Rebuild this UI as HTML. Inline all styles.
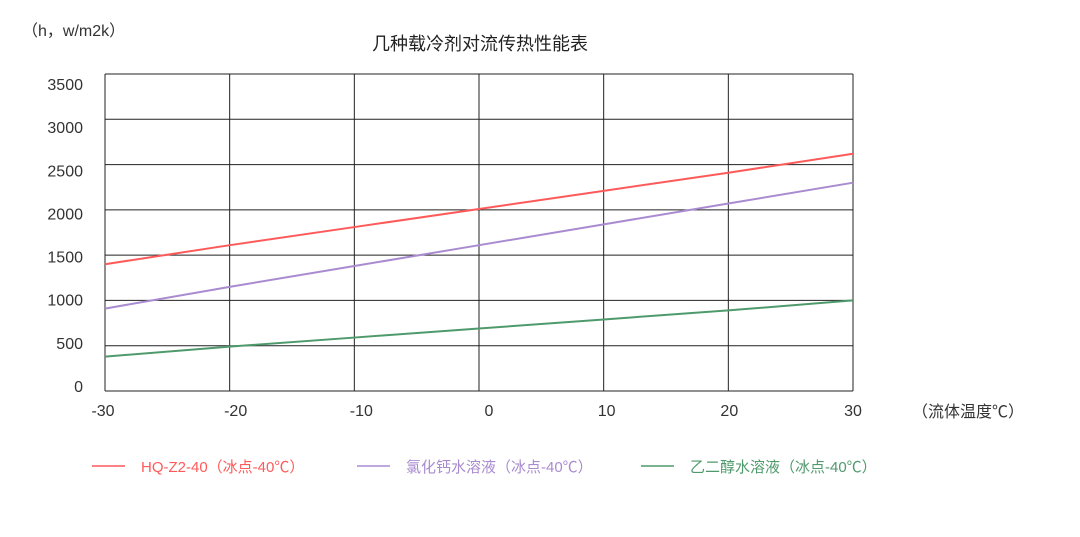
<!DOCTYPE html>
<html><head><meta charset="utf-8"><style>
body{margin:0;background:#fff;width:1080px;height:532px;overflow:hidden;font-family:"Liberation Sans","Noto Sans CJK SC",sans-serif}
</style></head><body>
<svg id="c" width="1080" height="532" font-family="Liberation Sans, Noto Sans CJK SC, sans-serif">
<text x="22" y="36" font-size="16" fill="#333">（h，w/m2k）</text>
<text x="480" y="50" font-size="18" fill="#222" text-anchor="middle">几种载冷剂对流传热性能表</text>
<text x="912" y="417" font-size="16" fill="#333">（流体温度℃）</text>
<g id="grid"></g><g id="series"></g><g id="legend"></g>
</svg>
<script>
const xTicks=[-30,-20,-10,0,10,20,30];
const yTicks=[0,500,1000,1500,2000,2500,3000,3500];
const temps=[-30,-20,-10,0,10,20,30];
const hqValues=[1400,1610,1810,2010,2210,2410,2620];
const cacl2Values=[910,1150,1380,1610,1840,2070,2300];
const glycolValues=[380,490,590,690,790,890,1000];
const names=["HQ-Z2-40（冰点-40℃）","氯化钙水溶液（冰点-40℃）","乙二醇水溶液（冰点-40℃）"];
const colors=["#ff5a5a","#a98bd0","#4f9a6c"];
const NS="http://www.w3.org/2000/svg";
const X0=105,X1=853,Y0=391,Y1=74;
const xs=v=>X0+(v+30)/60*(X1-X0);
const ys=v=>Y0-v/3500*(Y0-Y1);
const xLabelShift=[-2,6,7,10,3,1,0];
function mk(t,a,p){const e=document.createElementNS(NS,t);for(const k in a)e.setAttribute(k,a[k]);p.appendChild(e);return e;}
const g=document.getElementById('grid');
yTicks.forEach((v,i)=>{
 const l=mk('line',{x1:X0,x2:X1,y1:ys(v),y2:ys(v),stroke:'#222','stroke-width':1},g);
 
 
 const ly=386-(v/3500)*302;
 const t=mk('text',{x:83,y:ly+6,'font-size':16,fill:'#333','text-anchor':'end'},g);t.textContent=v;
 
 
});
xTicks.forEach((v,i)=>{
 const l=mk('line',{x1:xs(v),x2:xs(v),y1:Y1,y2:Y0,stroke:'#222','stroke-width':1},g);
 
 
 const t=mk('text',{x:xs(v)+xLabelShift[i],y:416,'font-size':16,fill:'#333','text-anchor':'middle'},g);t.textContent=v;
 
 
});
const s=document.getElementById('series');
[hqValues,cacl2Values,glycolValues].forEach((vals,i)=>{
 const p=mk('polyline',{points:vals.map((v,j)=>xs(temps[j])+','+ys(v)).join(' '),fill:'none',stroke:colors[i],'stroke-width':2},s);
 
 
});
const lg=document.getElementById('legend');
const lx=[92,357,641];
names.forEach((n,i)=>{
 const l=mk('line',{x1:lx[i],x2:lx[i]+33,y1:466,y2:466,stroke:colors[i],'stroke-width':1.5},lg);
 
 
 const t=mk('text',{x:lx[i]+49,y:472,'font-size':15,fill:colors[i]},lg);t.textContent=n;
 
 
});
</script>
</body></html>
